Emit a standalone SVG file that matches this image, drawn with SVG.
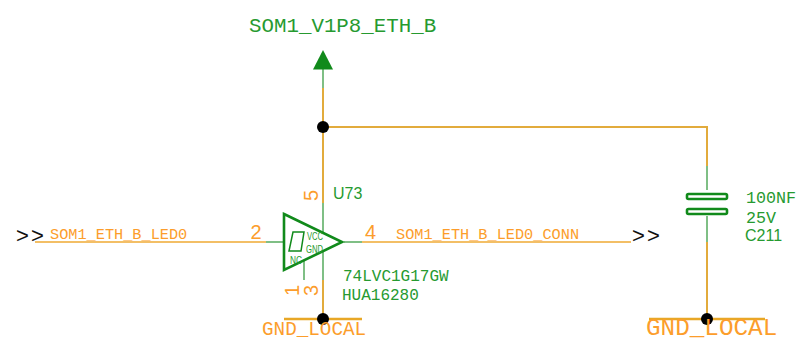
<svg xmlns="http://www.w3.org/2000/svg" width="796" height="341" viewBox="0 0 796 341">
<style>
text{white-space:pre}
.m{font-family:"Liberation Mono",monospace}
.s{font-family:"Liberation Sans",Arial,sans-serif}
.g{fill:#269a30}
.o{fill:#fc9d2b}
.k{fill:#111;letter-spacing:2.200px}
.w{fill:none;stroke:#e2ab3c;stroke-width:2}
.p{fill:none;stroke:#7fbf85;stroke-width:2}
.d{fill:none;stroke:#118a1b}
.j{fill:#000}
</style>
<rect width="796" height="341" fill="#fff"/>
<g id="connectors">
<path class="w" d="M323 88V203M323 127H707V166M323 280V319M707 242V319"/>
<path class="w" d="M35 242H266M362 242H631" style="stroke:#f0ab35;stroke-width:1.600"/>
<path class="p" d="M323 68V88M323 203V280M266 242H284M344 242H362M304 260V280M707 166V190M707 216V242"/>
<path class="w" d="M284 319H362M649 319H765" style="stroke:#e8a726;stroke-width:2.500"/>
<circle class="j" cx="323" cy="127" r="6"/>
<circle class="j" cx="323" cy="319" r="6"/>
<circle class="j" cx="707" cy="319" r="6"/>
</g>
<g id="power">
<path fill="#118a1b" d="M323 50L333 69.500H313Z"/>
<text class="m g" x="249" y="31.500" font-size="20.800">SOM1_V1P8_ETH_B</text>
</g>
<g id="U73">
<path class="d" stroke-width="2.600" d="M284 214L342 242L284 270Z" style="fill:#fff"/>
<path class="d" stroke-width="1.500" d="M289 251L293 232H304L301 251Z"/>
<text class="s g" x="307" y="240" font-size="10" textLength="16" lengthAdjust="spacingAndGlyphs">VCC</text>
<text class="s g" x="306" y="253" font-size="10" textLength="17" lengthAdjust="spacingAndGlyphs">GND</text>
<text class="s g" x="290" y="264" font-size="10" textLength="12" lengthAdjust="spacingAndGlyphs">NC</text>
<text class="s o" x="250.500" y="239" font-size="20">2</text>
<text class="s o" x="365" y="239" font-size="20">4</text>
<text class="s o" transform="translate(318 201) rotate(-90)" font-size="20">5</text>
<text class="s o" transform="translate(299 296) rotate(-90)" font-size="20">1</text>
<text class="s o" transform="translate(318 296) rotate(-90)" font-size="20">3</text>
<text class="s g" x="333" y="199" font-size="16">U73</text>
<text class="m g" x="343" y="280.500" font-size="16">74LVC1G17GW</text>
<text class="m g" x="342" y="300" font-size="16">HUA16280</text>
</g>
<g id="C211">
<rect class="d" stroke-width="2.600" x="687" y="194" width="40" height="5" rx="1.500" style="fill:#fff"/>
<rect class="d" stroke-width="2.600" x="687" y="209" width="40" height="5" rx="1.500" style="fill:#fff"/>
<text class="m g" x="746" y="203" font-size="16.700">100NF</text>
<text class="m g" x="746" y="223" font-size="16.700">25V</text>
<text class="s g" x="745" y="241" font-size="16">C211</text>
</g>
<g id="port-in">
<text class="s k" x="16" y="243" font-size="22">&gt;&gt;</text>
<text class="m o" x="50" y="239" font-size="15.250">SOM1_ETH_B_LED0</text>
</g>
<g id="port-out">
<text class="s k" x="632" y="243" font-size="22">&gt;&gt;</text>
<text class="m o" x="396" y="239" font-size="15.250">SOM1_ETH_B_LED0_CONN</text>
</g>
<g id="gnd-u73">
<text class="m o" x="262" y="335" font-size="19.300">GND_LOCAL</text>
</g>
<g id="gnd-c211">
<text class="m o" x="646" y="335" font-size="24.300">GND_LOCAL</text>
</g>
</svg>
